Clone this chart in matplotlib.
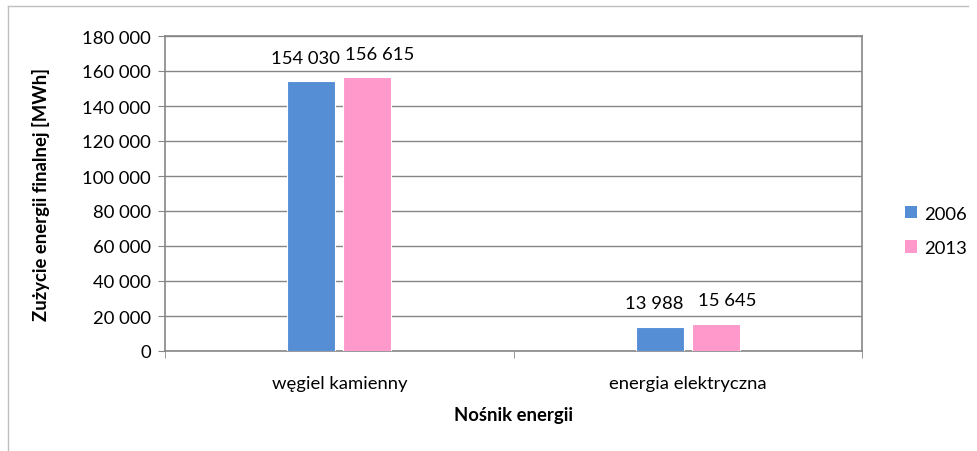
import matplotlib.pyplot as plt
from matplotlib.lines import Line2D
from matplotlib.patches import Patch
from matplotlib.transforms import offset_copy
import numpy as np

plt.rcParams['font.family'] = ['Lato', 'DejaVu Sans']

categories = ["węgiel kamienny", "energia elektryczna"]
years = ["2006", "2013"]
values_2006 = [154030, 13988]
values_2013 = [156615, 15645]
colors = ["#558ED5", "#FF99CC"]
FS = 13.3


def fmt(v):
    return f"{v:,}".replace(",", " ")


fig = plt.figure(figsize=(9.78, 4.52), dpi=100)
ax = fig.add_axes([165 / 978, 1 - 352 / 452, (862 - 165) / 978, (352 - 37) / 452])

x = np.arange(len(categories))
w = 0.138
off = 0.08
b1 = ax.bar(x - off, values_2006, w, color=colors[0], edgecolor="white", linewidth=0.8, zorder=3)
b2 = ax.bar(x + off, values_2013, w, color=colors[1], edgecolor="white", linewidth=0.8, zorder=3)

for bars, vals, dx in ((b1, values_2006, -6), (b2, values_2013, 12)):
    tr = offset_copy(ax.transData, fig=fig, x=dx * 0.72, y=11, units="points")
    for r, v in zip(bars, vals):
        ax.text(r.get_x() + r.get_width() / 2, v, fmt(v), ha="center", va="bottom",
                fontsize=FS, color="black", transform=tr)

ax.set_xlim(-0.5, 1.5)
ax.set_ylim(0, 180000)
yt = np.arange(0, 180001, 20000)
ax.set_yticks(yt)
ax.set_yticklabels([fmt(v) for v in yt], fontsize=FS)
ax.set_xticks(x)
ax.set_xticklabels(categories, fontsize=FS)
ax.tick_params(axis="x", length=0, pad=17)
ax.tick_params(axis="y", length=5, color="#868686", pad=5)
# category boundary ticks
ax.set_xticks([-0.5, 0.5, 1.5], minor=True)
ax.tick_params(axis="x", which="minor", length=5, color="#868686")

ax.grid(axis="y", color="#868686", linewidth=1, zorder=0)
for s in ax.spines.values():
    s.set_color("#868686")
    s.set_linewidth(1.2)

ax.set_ylabel("Zużycie energii finalnej [MWh]", fontsize=FS, fontweight="bold", labelpad=23)
ax.set_xlabel("Nośnik energii", fontsize=FS, fontweight="bold", labelpad=11)

handles = [Patch(facecolor=c, edgecolor="none") for c in colors]
fig.legend(handles, years, loc="upper left", bbox_to_anchor=(888 / 978, 1 - 190 / 452),
           frameon=False, fontsize=FS, handlelength=0.65, handleheight=0.65,
           handletextpad=0.4, labelspacing=1.0)

# outer chart border (top and left visible)
fig.add_artist(Line2D([8 / 978, 968 / 978], [1 - 7 / 452, 1 - 7 / 452], color="#BFBFBF", lw=1))
fig.add_artist(Line2D([8 / 978, 8 / 978], [1 - 7 / 452, 0], color="#BFBFBF", lw=1))

fig.savefig("out.png", dpi=100)
